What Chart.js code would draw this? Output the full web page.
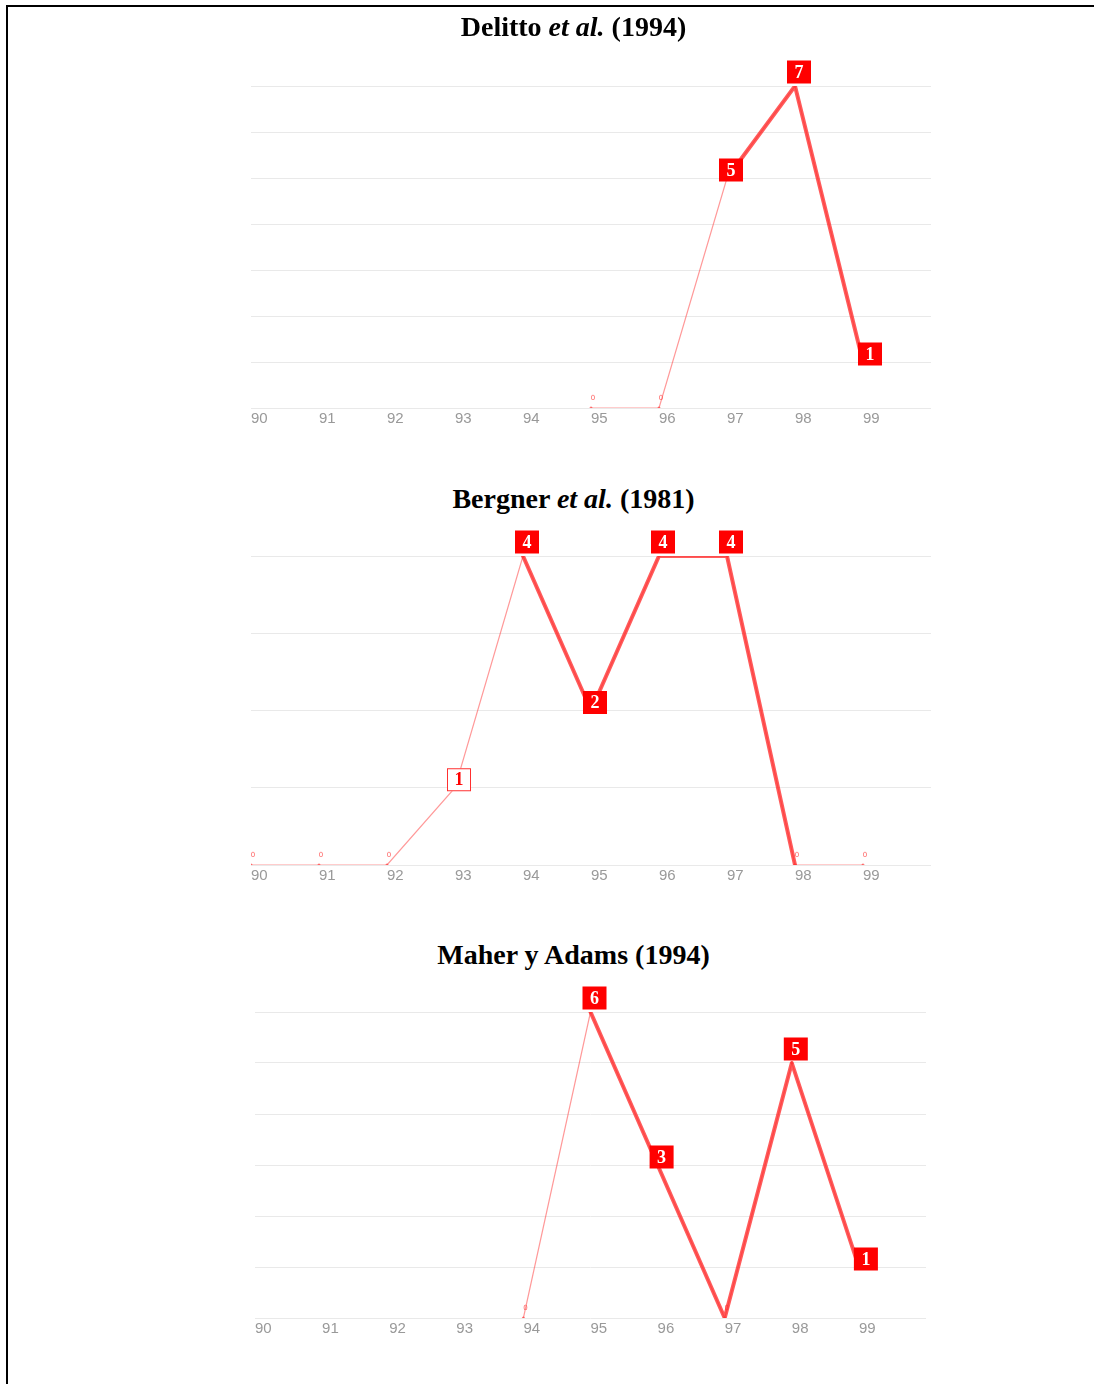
<!DOCTYPE html>
<html>
<head>
<meta charset="utf-8">
<script src="https://cdn.jsdelivr.net/npm/chart.js@4/dist/chart.umd.min.js"></script>
<style>
  html, body { margin: 0; padding: 0; background: #fff; }
  body { width: 1094px; height: 1384px; position: relative; overflow: hidden; }
  .frame { position: absolute; left: 6px; top: 5px; width: 1100px; height: 1400px;
           border-top: 2px solid #000; border-left: 2px solid #000; }
  .title { position: absolute; left: 0; width: 1147px; text-align: center;
           font-family: "Liberation Serif", "Times New Roman", serif; font-weight: bold;
           font-size: 28px; color: #000; line-height: 30px; z-index: 2; }
  .title i { font-style: italic; }
  canvas { position: absolute; left: 0; }
</style>
</head>
<body>
<div class="frame"></div>
<div class="title" style="top:12px">Delitto <i>et al.</i> (1994)</div>
<div class="title" style="top:484px">Bergner <i>et al.</i> (1981)</div>
<div class="title" style="top:940px">Maher y Adams (1994)</div>
<canvas id="c1" width="1094" height="420" style="top:40px"></canvas>
<canvas id="c2" width="1094" height="400" style="top:515px"></canvas>
<canvas id="c3" width="1094" height="380" style="top:975px"></canvas>
<script>
// ---- data ----
const years = [90, 91, 92, 93, 94, 95, 96, 97, 98, 99];
const xLabels = ['90', '91', '92', '93', '94', '95', '96', '97', '98', '99'];
const delittoValues = [null, null, null, null, null, 0, 0, 5, 7, 1];
const bergnerValues = [0, 0, 0, 1, 4, 2, 4, 4, 0, 0];
const maherValues   = [null, null, null, null, 0, 6, 3, 0, 5, 1];
// highlighted period (first and last year of the emphasised stretch)
const delittoHighlight = [97, 99];
const bergnerHighlight = [94, 98];
const maherHighlight   = [95, 99];
const delittoMax = 7, bergnerMax = 4, maherMax = 6;

const THIN = 'rgba(255,70,70,0.55)';
const THICK = 'rgba(255,45,45,0.78)';
const BOX = '#ff0000';

const labelPlugin = {
  id: 'valueLabels',
  beforeDatasetsDraw(chart) {
    const ctx = chart.ctx;
    const meta = chart.getDatasetMeta(0);
    const ds = chart.data.datasets[0];
    ctx.save();
    ctx.font = '7px "DejaVu Sans", sans-serif';
    ctx.fillStyle = 'rgba(255,80,80,0.9)';
    ctx.textAlign = 'center';
    ctx.textBaseline = 'middle';
    meta.data.forEach((pt, i) => {
      const v = ds.data[i].y;
      if (v === 0) ctx.fillText('0', pt.x + 2, pt.y - 10);
    });
    ctx.restore();
  },
  afterDatasetsDraw(chart) {
    const ctx = chart.ctx;
    const hl = chart.options.plugins.valueLabels.range;
    const meta = chart.getDatasetMeta(0);
    const ds = chart.data.datasets[0];
    const n = ds.data.length;
    ctx.save();
    ctx.font = 'bold 18px "Liberation Serif", serif';
    ctx.textAlign = 'center';
    ctx.textBaseline = 'middle';
    meta.data.forEach((pt, i) => {
      const v = ds.data[i].y;
      if (v === null || v === 0) return;
      const yr = ds.data[i].x;
      const inHl = yr >= hl[0] && yr <= hl[1];
      const prev = i > 0 ? ds.data[i - 1].y : null;
      const next = i < n - 1 ? ds.data[i + 1].y : null;
      const peak = (prev === null || prev <= v) && (next === null || next <= v);
      const last = i === n - 1;
      const cx = pt.x + (last ? 7 : 4);
      const cy = pt.y - (peak && !last ? 14 : 8);
      const w = 24, h = 23;
      if (inHl) {
        ctx.fillStyle = BOX;
        ctx.fillRect(cx - w / 2, cy - h / 2, w, h);
        ctx.fillStyle = '#fff';
      } else {
        ctx.fillStyle = '#fff';
        ctx.fillRect(cx - w / 2, cy - h / 2, w, h);
        ctx.strokeStyle = '#ff3030';
        ctx.lineWidth = 1;
        ctx.strokeRect(cx - w / 2 + 0.5, cy - h / 2 + 0.5, w - 1, h - 1);
        ctx.fillStyle = '#ff0000';
      }
      ctx.fillText(String(v), cx, cy + 1);
    });
    ctx.restore();
  }
};

function makeChart(id, values, hl, yMax, pad) {
  const pts = years.map((x, i) => ({ x: x, y: values[i] }));
  const hlPts = years.map((x, i) => ({ x: x, y: (x >= hl[0] && x <= hl[1]) ? values[i] : null }));
  return new Chart(document.getElementById(id), {
    type: 'line',
    data: {
      datasets: [
        { data: pts, borderColor: THIN, borderWidth: 1.2, pointRadius: 1.5,
          pointBackgroundColor: 'rgba(255,60,60,0.7)', pointBorderWidth: 0,
          tension: 0, spanGaps: false, order: 2 },
        { data: hlPts, borderColor: THICK, borderWidth: 4, pointRadius: 0,
          tension: 0, spanGaps: false, borderCapStyle: 'round', borderJoinStyle: 'round', order: 1 }
      ]
    },
    options: {
      responsive: false, animation: false,
      layout: { padding: pad },
      plugins: { legend: { display: false }, tooltip: { enabled: false }, valueLabels: { range: hl } },
      scales: {
        x: {
          type: 'linear', min: years[0], max: years[years.length - 1] + 1,
          afterBuildTicks(s) { s.ticks = years.map(v => ({ value: v })); },
          afterFit(s) { s.height = 30; },
          grid: { display: false, drawTicks: false },
          border: { display: false },
          ticks: {
            align: 'start', padding: 2, color: '#999999', maxRotation: 0, autoSkip: false,
            font: { family: '"Liberation Sans", Arial, sans-serif', size: 15 },
            callback: (v) => xLabels[years.indexOf(v)] ?? ''
          }
        },
        y: {
          min: 0, max: yMax,
          afterBuildTicks(s) { const t = []; for (let k = 0; k <= yMax; k++) t.push({ value: k }); s.ticks = t; },
          afterFit(s) { s.width = 0; },
          grid: { color: '#e9e9e9', lineWidth: 1, drawTicks: false },
          border: { display: false },
          ticks: { display: false }
        }
      }
    },
    plugins: [labelPlugin]
  });
}

makeChart('c1', delittoValues, delittoHighlight, delittoMax, { left: 251, right: 163, top: 46, bottom: 22 });
makeChart('c2', bergnerValues, bergnerHighlight, bergnerMax, { left: 251, right: 163, top: 41, bottom: 20 });
makeChart('c3', maherValues, maherHighlight, maherMax, { left: 255, right: 168, top: 37, bottom: 7 });
</script>
</body>
</html>
